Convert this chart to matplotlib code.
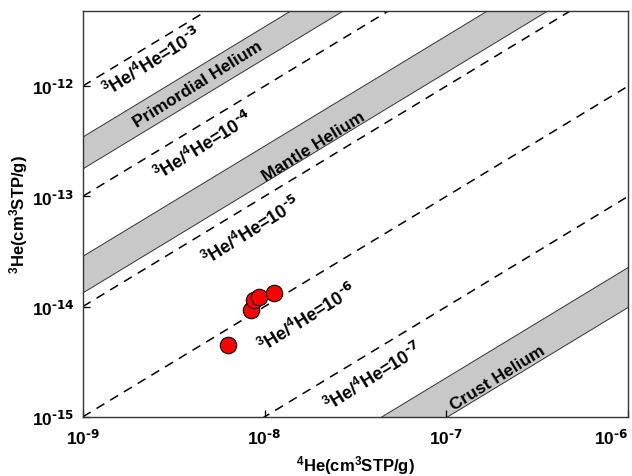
import numpy as np
import matplotlib
matplotlib.use("Agg")
import matplotlib.pyplot as plt
from matplotlib.ticker import NullLocator, LogLocator, FuncFormatter
from matplotlib.transforms import ScaledTranslation

plt.rcParams['font.family'] = ['Liberation Sans', 'DejaVu Sans']
plt.rcParams['font.weight'] = 'bold'
plt.rcParams['axes.labelweight'] = 'bold'
plt.rcParams['mathtext.default'] = 'regular'

# measured samples
he4 = [6.3e-9, 8.4e-9, 8.7e-9, 9.3e-9, 1.12e-8]
he3 = [4.45e-15, 9.3e-15, 1.15e-14, 1.23e-14, 1.33e-14]

# reference ratio lines 3He/4He
ratios = [1e-3, 1e-4, 1e-5, 1e-6, 1e-7]
ratio_exps = [3, 4, 5, 6, 7]
ratio_label_x = [2.4e-9, 4.6e-9, 8.5e-9, 1.73e-8, 3.95e-8]
ratio_label_y = [1.68e-12, 2.88e-13, 4.94e-14, 7.9e-15, 2.34e-15]

# helium source fields (ratio ranges)
fields = ['Primordial Helium', 'Mantle Helium', 'Crust Helium']
field_lo = [1.8e-4, 1.35e-5, 1.0e-8]
field_hi = [3.5e-4, 2.9e-5, 2.3e-8]
field_label_x = [4.3e-9, 1.85e-8, 1.92e-7]
field_label_y = [1.04e-12, 2.88e-13, 2.3e-15]

fig = plt.figure(figsize=(6.32, 4.77), dpi=100)
ax = fig.add_axes([0.131, 0.124, 0.863, 0.851])
ax.set_xscale('log')
ax.set_yscale('log')
ax.set_xlim(1e-9, 1e-6)
ax.set_ylim(1e-15, 4.8e-12)

x = np.logspace(-9, -6, 50)
for lo, hi in zip(field_lo, field_hi):
    ax.fill_between(x, lo * x, hi * x, facecolor='#c8c8c8', edgecolor='#333333',
                    linewidth=0.7, zorder=1)

for r in ratios:
    ax.plot(x, r * x, color='black', lw=1.1, linestyle=(0, (6, 4.5)), zorder=2)

rot = 32
for e, tx, ty in zip(ratio_exps, ratio_label_x, ratio_label_y):
    ax.text(tx, ty, r'$^3$He/$^4$He=10$^{\text{-%d}}$' % e, rotation=rot, fontsize=13,
            ha='center', va='center', rotation_mode='anchor', zorder=3)

for name, tx, ty in zip(fields, field_label_x, field_label_y):
    ax.text(tx, ty, name, rotation=rot, fontsize=12.5, ha='center', va='center',
            rotation_mode='anchor', zorder=3)

ax.scatter(he4, he3, s=140, facecolor='#ff0000', edgecolor='black', linewidth=0.8, zorder=4)


def pow_fmt(v, pos):
    e = int(round(np.log10(v)))
    return r'10$^{\text{-%d}}$' % abs(e)


ax.xaxis.set_major_locator(LogLocator(base=10, numticks=10))
ax.yaxis.set_major_locator(LogLocator(base=10, numticks=10))
ax.xaxis.set_major_formatter(FuncFormatter(pow_fmt))
ax.yaxis.set_major_formatter(FuncFormatter(pow_fmt))
ax.xaxis.set_minor_locator(NullLocator())
ax.yaxis.set_minor_locator(NullLocator())
ax.tick_params(direction='in', length=5, width=0.9, labelsize=12.5)
ax.tick_params(axis='x', pad=8)
ax.tick_params(axis='y', pad=6)
for s in ax.spines.values():
    s.set_color('#333333')
    s.set_linewidth(1.0)

ax.set_xlabel(r'$^4$He(cm$^3$STP/g)', fontsize=12, labelpad=4)
ax.set_ylabel(r'$^3$He(cm$^3$STP/g)', fontsize=12, labelpad=1)

fig.canvas.draw()
for t in ax.xaxis.get_major_ticks():
    if abs(np.log10(t.get_loc()) + 6) < 1e-6:
        t.label1.set_transform(t.label1.get_transform() +
                               ScaledTranslation(-0.17, 0, fig.dpi_scale_trans))

fig.savefig('out.png', dpi=100)
